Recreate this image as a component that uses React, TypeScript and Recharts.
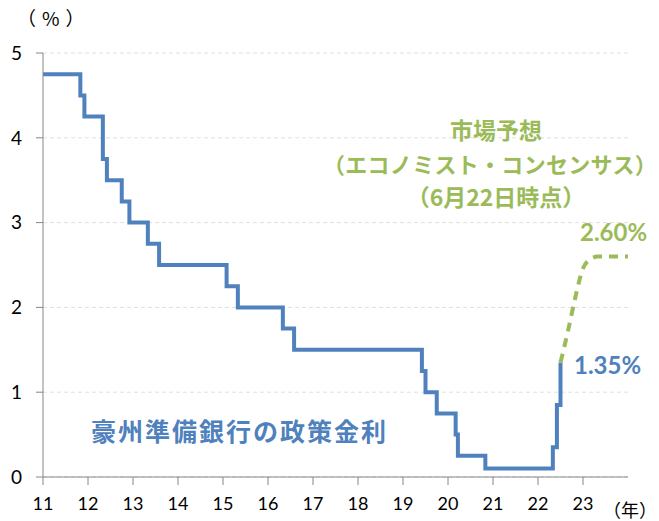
import React from 'react';
import { LineChart, Line, XAxis, YAxis, CartesianGrid } from 'recharts';

// 豪州準備銀行の政策金利（年＝20xx、小数は年の経過分）
const rateYears = [11, 11.83, 11.92, 12.33, 12.42, 12.75, 12.92, 13.33, 13.58, 15.08, 15.33, 16.33, 16.58, 19.42, 19.5, 19.75, 20.17, 20.22, 20.83, 22.33, 22.42, 22.5];
const rateValues = [4.75, 4.5, 4.25, 3.75, 3.5, 3.25, 3.0, 2.75, 2.5, 2.25, 2.0, 1.75, 1.5, 1.25, 1.0, 0.75, 0.5, 0.25, 0.1, 0.35, 0.85, 1.35];

// 市場予想（エコノミスト・コンセンサス）
const forecastYears = [22.5, 22.67, 22.83, 23.0, 23.17, 23.33, 23.5, 23.75, 24];
const forecastValues = [1.35, 1.73, 2.12, 2.46, 2.57, 2.6, 2.6, 2.6, 2.6];

const xTicks = [11, 12, 13, 14, 15, 16, 17, 18, 19, 20, 21, 22, 23];
const yTicks = [0, 1, 2, 3, 4, 5];

const BLUE = '#4f81bd';
const GREEN = '#9bbb59';
const FONT = "Lato, 'Noto Sans CJK JP', sans-serif";
const JP = "'Noto Sans CJK JP', sans-serif";

const rateData = rateYears.map((x, i) => ({ x, y: rateValues[i] }));
const forecastData = forecastYears.map((x, i) => ({ x, y: forecastValues[i] }));

const abs = (left: number, top: number, extra: React.CSSProperties = {}): React.CSSProperties => ({
  position: 'absolute', left, top, whiteSpace: 'nowrap', lineHeight: 1, ...extra,
});

const centered = (cx: number, top: number, extra: React.CSSProperties = {}) =>
  abs(cx, top, { transform: 'translateX(-50%)', fontSize: 23, fontWeight: 700, color: GREEN, fontFamily: JP, ...extra });

export default function App() {
  return (
    <div style={{ position: 'absolute', left: 0, top: 0, width: 659, height: 521, background: '#fff', fontFamily: FONT }}>
      <LineChart width={659} height={521} margin={{ top: 53, right: 31, left: 0, bottom: 0 }}>
        <CartesianGrid horizontal vertical={false} stroke="#e0e0e0" strokeDasharray="4 3" />
        <XAxis
          type="number" dataKey="x" domain={[11, 24]} ticks={xTicks} allowDataOverflow
          height={44} stroke="#868686" tickSize={8} tickMargin={12}
          tick={{ fill: '#000', fontSize: 18, fontFamily: FONT }}
        />
        <YAxis
          type="number" dataKey="y" domain={[0, 5]} ticks={yTicks} width={43}
          stroke="#868686" tickSize={7} tickMargin={14}
          tick={{ fill: '#000', fontSize: 19, fontFamily: FONT }}
        />
        <Line data={rateData} dataKey="y" type="stepAfter" stroke={BLUE} strokeWidth={4} dot={false} isAnimationActive={false} />
        <Line data={forecastData} dataKey="y" type="monotone" stroke={GREEN} strokeWidth={4} strokeDasharray="9 7" dot={false} isAnimationActive={false} />
      </LineChart>

      <div style={abs(17, 8, { fontSize: 19, color: '#000', fontFamily: JP, letterSpacing: 6 })}>（%）</div>
      <div style={abs(598, 500, { width: 59, textAlign: 'right', fontSize: 18, color: '#000', fontFamily: JP })}>（年）</div>

      <div style={abs(91, 418, { fontSize: 25, fontWeight: 700, color: BLUE, fontFamily: JP, letterSpacing: 2 })}>豪州準備銀行の政策金利</div>

      <div style={centered(496, 118)}>市場予想</div>
      <div style={centered(490, 152, { fontSize: 22, letterSpacing: 0.3 })}>（エコノミスト・コンセンサス）</div>
      <div style={centered(496, 185)}>（6月22日時点）</div>

      <div style={abs(580, 220, { fontSize: 24, fontWeight: 700, color: GREEN })}>2.60%</div>
      <div style={abs(574, 353, { fontSize: 24, fontWeight: 700, color: BLUE })}>1.35%</div>
    </div>
  );
}
